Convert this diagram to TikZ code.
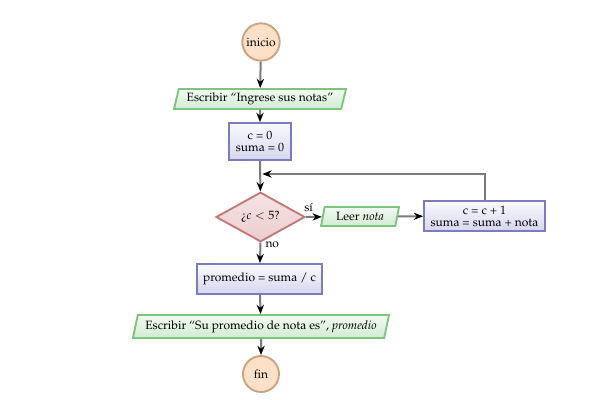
\documentclass[tikz,border=0pt]{standalone}
\usepackage[T1]{fontenc}
\usepackage{mathpazo}
\usetikzlibrary{shapes.geometric,arrows.meta}
\definecolor{termfill}{HTML}{FCE0C8}
\definecolor{termdraw}{HTML}{C9A27E}
\definecolor{iotop}{HTML}{F2FAF2}
\definecolor{iobot}{HTML}{D2EBD2}
\definecolor{iodraw}{HTML}{7DC47D}
\definecolor{prtop}{HTML}{FAFAFF}
\definecolor{prbot}{HTML}{D6D6EE}
\definecolor{prdraw}{HTML}{7B7BC0}
\definecolor{dctop}{HTML}{F6E4E4}
\definecolor{dcbot}{HTML}{ECCCCC}
\definecolor{dcdraw}{HTML}{C07878}
\definecolor{linegray}{HTML}{7A7A7A}
\tikzset{
  term/.style={circle,draw=termdraw,fill=termfill,line width=1.4pt,minimum size=28pt,inner sep=0pt,font=\small},
  io/.style={trapezium,trapezium stretches body,trapezium left angle=72,trapezium right angle=108,draw=iodraw,top color=iotop,bottom color=iobot,line width=1.4pt,inner xsep=1.5pt,inner ysep=1pt,font=\small},
  proc/.style={rectangle,draw=prdraw,top color=prtop,bottom color=prbot,line width=1.4pt,inner sep=1pt,align=center,font=\small},
  dec/.style={diamond,draw=dcdraw,top color=dctop,bottom color=dcbot,line width=1.4pt,inner sep=0pt,font=\small},
  arr/.style={draw=linegray,line width=1.5pt,-{Stealth[black,length=7pt,width=5.5pt]}},
  lbl/.style={font=\small,inner sep=0pt}
}
\begin{document}
\begin{tikzpicture}[x=0.75pt,y=-0.75pt]
\useasboundingbox (0,0) rectangle (600,400);
\node[term] (ini) at (261,42) {inicio};
\node[io,minimum width=129pt,minimum height=15pt] (w1) at (260,99) {Escribir ``Ingrese sus notas''};
\node[proc,minimum width=46.5pt,minimum height=27.75pt] (c0) at (260,141.5) {c = 0\\[-2pt]suma = 0};
\node[dec,minimum width=66.75pt,minimum height=34.5pt] (d) at (260.5,217) {\textquestiondown$c<5$?};
\node[io,minimum width=58.5pt,minimum height=14.25pt] (leer) at (360,216.5) {Leer \textit{nota}};
\node[proc,minimum width=90.75pt,minimum height=22.5pt] (upd) at (484.5,216) {c = c + 1\\[-2pt]suma = suma + nota};
\node[proc,minimum width=93.75pt,minimum height=22.5pt] (prom) at (259.5,279) {promedio = suma / c};
\node[io,minimum width=192pt,minimum height=17.25pt] (w2) at (261,326.5) {Escribir ``Su promedio de nota es'', \textit{promedio}};
\node[term,minimum size=27pt] (fin) at (261,374) {fin};
\coordinate (j) at (261,174);
\draw[arr] (ini) -- (w1);
\draw[arr] (w1) -- (c0);
\draw[arr] (c0) -- (d);
\draw[arr] (d.east) -- node[lbl,pos=0,anchor=south west,xshift=-2pt,yshift=3pt] {s\'{\i}} (leer);
\draw[arr] (leer) -- (upd);
\draw[arr,shorten >=1pt] (upd.north) |- (j);
\draw[arr] (d.south) -- node[lbl,pos=0,anchor=north west,xshift=3pt,yshift=1.5pt] {no} (prom);
\draw[arr] (prom) -- (w2);
\draw[arr] (w2) -- (fin);
\end{tikzpicture}
\end{document}
